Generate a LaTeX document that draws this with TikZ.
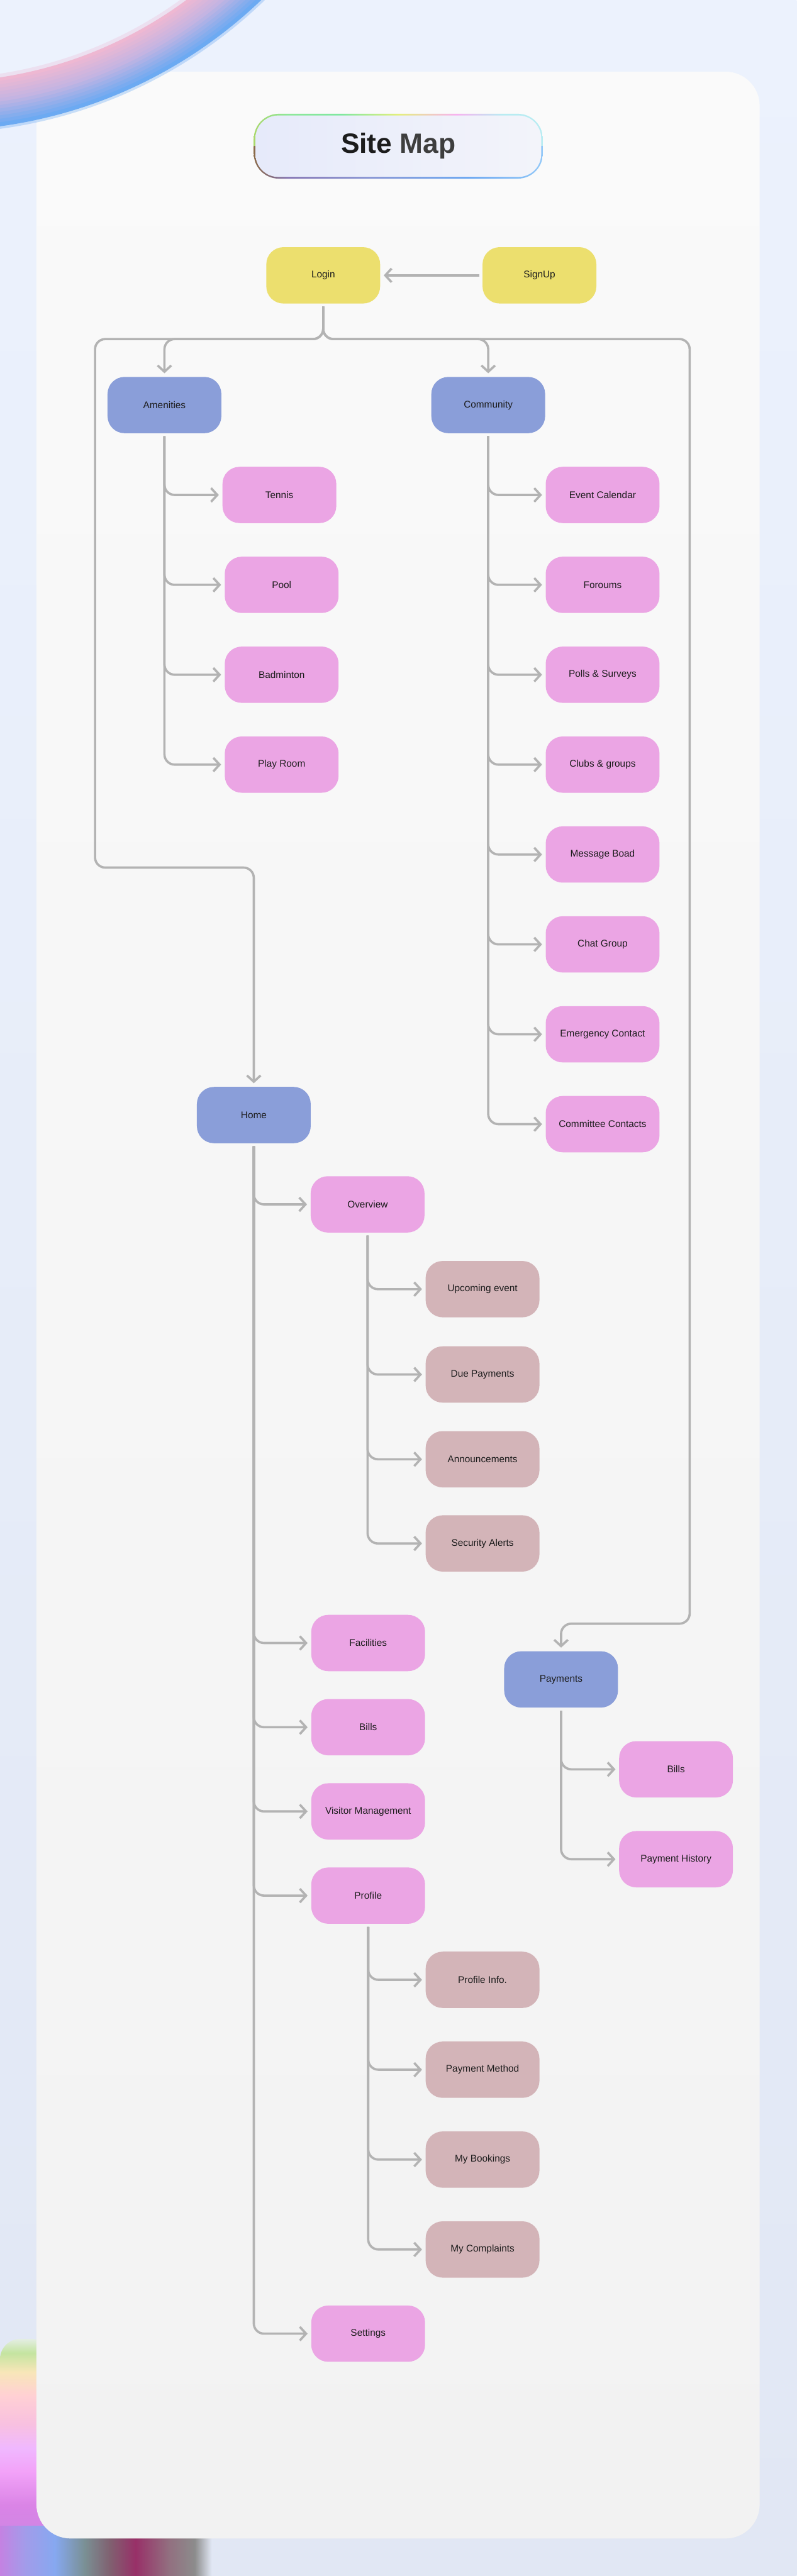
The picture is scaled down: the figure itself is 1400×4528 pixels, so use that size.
\documentclass[tikz,border=0pt]{standalone}
\usepackage{fontspec}
\setmainfont{Liberation Sans}
\usetikzlibrary{arrows.meta}
\definecolor{bgtop}{HTML}{ECF2FD}
\definecolor{bgbot}{HTML}{E1E7F4}
\definecolor{cardtop}{HTML}{FAFAFA}
\definecolor{cardbot}{HTML}{F2F2F2}
\definecolor{cyel}{HTML}{ECDF6E}
\definecolor{cblu}{HTML}{8A9ED9}
\definecolor{cpnk}{HTML}{EBA5E4}
\definecolor{cdus}{HTML}{D3B4B8}
\definecolor{lc}{HTML}{B3B3B3}
\definecolor{txt}{HTML}{1C1C1C}
\definecolor{txt2}{HTML}{3E3E3E}
\definecolor{pillL}{HTML}{E6EAFA}
\definecolor{pillR}{HTML}{F3F4FA}
% ring colours
\definecolor{rt1}{HTML}{A9D86A}
\definecolor{rt2}{HTML}{8EE89A}
\definecolor{rt3}{HTML}{7EE8A0}
\definecolor{rt4}{HTML}{E4F07C}
\definecolor{rt5}{HTML}{F8B2F0}
\definecolor{rt6}{HTML}{B8ECF2}
\definecolor{rb1}{HTML}{8A6A48}
\definecolor{rb2}{HTML}{8070B0}
\definecolor{rb3}{HTML}{8290D2}
\definecolor{rb4}{HTML}{62A2F0}
\definecolor{rb5}{HTML}{92C8F8}
% arc colours
\definecolor{apnk}{HTML}{EEB8D2}
\definecolor{amid}{HTML}{C4B4E2}
\definecolor{ablu}{HTML}{6CAAF2}
% blob colours
\definecolor{bv0}{HTML}{E4EEE4}
\definecolor{bv1}{HTML}{C4E4A0}
\definecolor{bv2}{HTML}{F8E6B8}
\definecolor{bv3}{HTML}{FFD0D4}
\definecolor{bv4}{HTML}{F8C0E0}
\definecolor{bv5}{HTML}{F0B8FF}
\definecolor{bv6}{HTML}{F2A2F8}
\definecolor{bv7}{HTML}{DA84E6}
\definecolor{bv8}{HTML}{CC86E4}
\definecolor{bv9}{HTML}{A898EA}
\definecolor{bh0}{HTML}{C482E2}
\definecolor{bh1}{HTML}{A29CEA}
\definecolor{bh2}{HTML}{86A8F0}
\definecolor{bh3}{HTML}{7A9094}
\definecolor{bh4}{HTML}{806070}
\definecolor{bh5}{HTML}{983068}
\definecolor{bh6}{HTML}{927080}
\definecolor{bh7}{HTML}{8C8C8C}
\pgfdeclarehorizontalshading{ringtop}{100bp}{color(0bp)=(rt1); color(25bp)=(rt1); color(31bp)=(rt2); color(40bp)=(rt3); color(50bp)=(rt4); color(60bp)=(rt5); color(68bp)=(rt6); color(75bp)=(rt6); color(100bp)=(rt6)}
\pgfdeclarehorizontalshading{ringbot}{100bp}{color(0bp)=(rb1); color(25bp)=(rb1); color(31bp)=(rb2); color(45bp)=(rb3); color(62bp)=(rb4); color(75bp)=(rb5); color(100bp)=(rb5)}
\pgfdeclareverticalshading{blobv}{100bp}{color(0bp)=(bv9); color(25bp)=(bv9); color(32bp)=(bv8); color(40bp)=(bv7); color(47bp)=(bv6); color(52bp)=(bv5); color(57bp)=(bv4); color(63bp)=(bv3); color(68bp)=(bv2); color(72bp)=(bv1); color(75bp)=(bv0); color(100bp)=(bv0)}
\pgfdeclarehorizontalshading{blobh}{100bp}{color(0bp)=(bh0); color(25bp)=(bh0); color(31bp)=(bh1); color(38bp)=(bh2); color(45bp)=(bh3); color(51bp)=(bh4); color(57bp)=(bh5); color(65bp)=(bh6); color(71bp)=(bh7); color(75bp)=(bgbot); color(100bp)=(bgbot)}
\begin{document}
\begin{tikzpicture}[x=0.5pt,y=-0.5pt,
  box/.style={rounded corners=15pt, minimum width=100pt, minimum height=49.5pt, inner sep=0pt,
              font=\fontsize{8.5}{10}\selectfont, text=txt},
  nyel/.style={box, fill=cyel},
  nblu/.style={box, fill=cblu},
  npnk/.style={box, fill=cpnk},
  ndus/.style={box, fill=cdus},
  arcring/.style={line width=3.5pt},
  conn/.style={draw=lc, line width=2pt, rounded corners=9pt,
               -{Straight Barb[length=5.5pt,width=12pt]}}]
\useasboundingbox (0,0) rectangle (1400,4528);
% background
\shade[top color=bgtop, bottom color=bgbot] (0,0) rectangle (1400,4528);
% bottom-left blob (behind card)
\shade[shading=blobv, rounded corners=18pt] (0,4111) rectangle (90,4528);
\shade[shading=blobh] (0,4440) rectangle (372,4528);
% card
\shade[top color=cardtop, bottom color=cardbot, rounded corners=30pt] (64,126) rectangle (1335,4462);
% top-left arc decoration
\begin{scope}
  \clip (0,0) rectangle (1400,4528);
  \coordinate (arcc) at (-112,-596);
  \draw[line width=4pt, color=apnk, opacity=0.3] (arcc) circle[radius=738];
  \foreach \i in {0,...,6} {
    \pgfmathsetmacro\rr{744+6*\i}
    \pgfmathsetmacro\mx{100*\i/6}
    \draw[arcring, color=amid!\mx!apnk] (arcc) circle[radius=\rr];
  }
  \foreach \i in {1,...,7} {
    \pgfmathsetmacro\rr{780+6*\i}
    \pgfmathsetmacro\mx{100*\i/7}
    \draw[arcring, color=ablu!\mx!amid] (arcc) circle[radius=\rr];
  }
  \draw[line width=4pt, color=ablu, opacity=0.35] (arcc) circle[radius=826];
\end{scope}
% title pill with rainbow border
\begin{scope}
  \clip[rounded corners=22pt] (446,200) rectangle (954,314);
  \shade[shading=ringtop] (446,200) rectangle (954,257);
  \shade[shading=ringbot] (446,257) rectangle (954,314);
\end{scope}
\node[rounded corners=20pt, minimum width=251pt, minimum height=54pt, inner sep=0pt,
      left color=pillL, right color=pillR, text=txt,
      font=\fontsize{24.5}{28}\selectfont\bfseries] (title) at (700,257) {Site \textcolor{txt2}{Map}};
% nodes
\node[nyel] (login)  at (568,484) {Login};
\node[nyel] (signup) at (948,484) {SignUp};
\node[nblu] (amen) at (289,712) {Amenities};
\node[nblu] (comm) at (858,712) {Community};
\node[npnk] (tennis) at (491,870) {Tennis};
\node[npnk] (pool)   at (495,1028) {Pool};
\node[npnk] (badm)   at (495,1186) {Badminton};
\node[npnk] (play)   at (495,1344) {Play Room};
\node[npnk] (evcal)  at (1059,870) {Event Calendar};
\node[npnk] (forum)  at (1059,1028) {Foroums};
\node[npnk] (polls)  at (1059,1186) {Polls \& Surveys};
\node[npnk] (clubs)  at (1059,1344) {Clubs \& groups};
\node[npnk] (msg)    at (1059,1502) {Message Boad};
\node[npnk] (chat)   at (1059,1660) {Chat Group};
\node[npnk] (emerg)  at (1059,1818) {Emergency Contact};
\node[npnk] (commit) at (1059,1976) {Committee Contacts};
\node[nblu] (home) at (446,1960) {Home};
\node[npnk] (over) at (646,2117) {Overview};
\node[ndus] (upc)  at (848,2266) {Upcoming event};
\node[ndus] (due)  at (848,2416) {Due Payments};
\node[ndus] (ann)  at (848,2565) {Announcements};
\node[ndus] (sec)  at (848,2713) {Security Alerts};
\node[npnk] (fac)   at (647,2888) {Facilities};
\node[npnk] (bills) at (647,3036) {Bills};
\node[npnk] (visit) at (647,3184) {Visitor Management};
\node[npnk] (prof)  at (647,3332) {Profile};
\node[ndus] (pinfo) at (848,3480) {Profile Info.};
\node[ndus] (pmeth) at (848,3638) {Payment Method};
\node[ndus] (book)  at (848,3796) {My Bookings};
\node[ndus] (compl) at (848,3954) {My Complaints};
\node[npnk] (sett)  at (647,4102) {Settings};
\node[nblu] (pay)   at (986,2952) {Payments};
\node[npnk] (pbills) at (1188,3110) {Bills};
\node[npnk] (phist)  at (1188,3268) {Payment History};
% bend coordinates
\coordinate (bus) at (568,596);
\coordinate (lturn) at (167,1525);
\coordinate (rturn) at (1212,2854);
% connectors
\draw[conn] ([xshift=-2.5pt]signup.west) -- ([xshift=3pt]login.east);
\draw[conn] ([yshift=-2.5pt]login.south) -- (bus) -| ([yshift=3pt]amen.north);
\draw[conn] ([yshift=-2.5pt]login.south) -- (bus) -| ([yshift=3pt]comm.north);
\draw[conn] ([yshift=-2.5pt]login.south) -- (bus) -| (lturn) -| ([yshift=3pt]home.north);
\draw[conn] ([yshift=-2.5pt]login.south) -- (bus) -| (rturn) -| ([yshift=3pt]pay.north);
\foreach \c in {tennis,pool,badm,play}
  \draw[conn] ([yshift=-2.5pt]amen.south) |- ([xshift=-3pt]\c.west);
\foreach \c in {evcal,forum,polls,clubs,msg,chat,emerg,commit}
  \draw[conn] ([yshift=-2.5pt]comm.south) |- ([xshift=-3pt]\c.west);
\foreach \c in {over,fac,bills,visit,prof,sett}
  \draw[conn] ([yshift=-2.5pt]home.south) |- ([xshift=-3pt]\c.west);
\foreach \c in {upc,due,ann,sec}
  \draw[conn] ([yshift=-2.5pt]over.south) |- ([xshift=-3pt]\c.west);
\foreach \c in {pinfo,pmeth,book,compl}
  \draw[conn] ([yshift=-2.5pt]prof.south) |- ([xshift=-3pt]\c.west);
\foreach \c in {pbills,phist}
  \draw[conn] ([yshift=-2.5pt]pay.south) |- ([xshift=-3pt]\c.west);
\end{tikzpicture}
\end{document}
